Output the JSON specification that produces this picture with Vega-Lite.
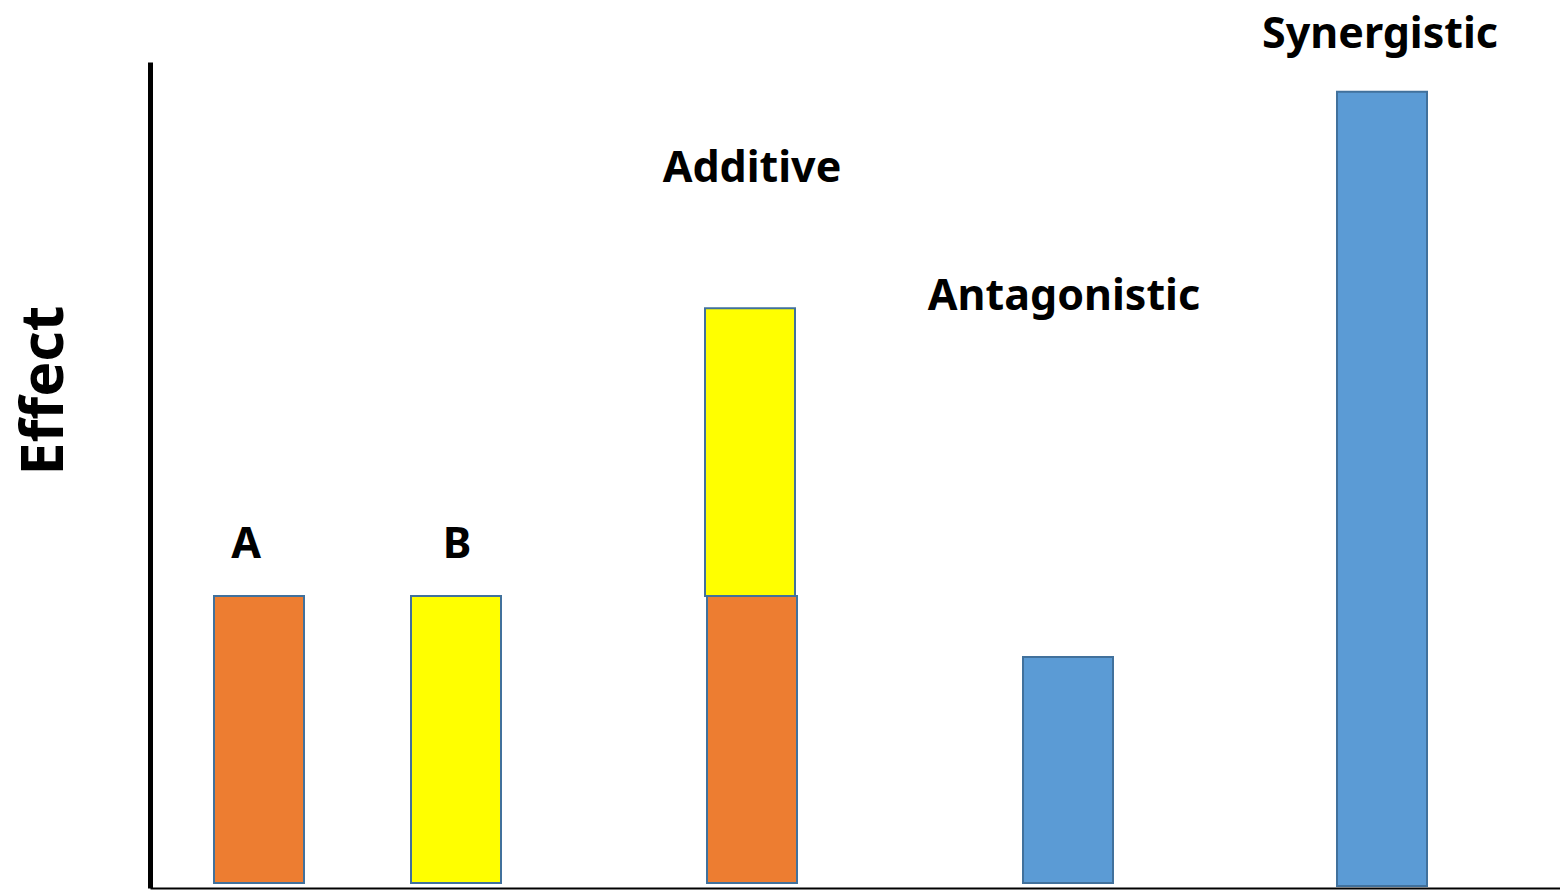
{
  "$schema": "https://vega.github.io/schema/vega-lite/v6.json",
  "width": 1410,
  "height": 826,
  "autosize": {"type": "none"},
  "padding": {"left": 150, "top": 62, "right": 0, "bottom": 2},
  "background": "white",
  "config": {"view": {"stroke": null}},
  "datasets": {
    "bars": [
      {"group": "A", "part": "A", "x0": 6.4, "x1": 15.4, "base": 0.6, "top": 35.35},
      {"group": "B", "part": "B", "x0": 26.1, "x1": 35.1, "base": 0.6, "top": 35.35},
      {"group": "Additive", "part": "B", "x0": 55.5, "x1": 64.5, "base": 35.35, "top": 70.2},
      {"group": "Additive", "part": "A", "x0": 55.7, "x1": 64.7, "base": 0.6, "top": 35.35},
      {"group": "Antagonistic", "part": "Combined", "x0": 87.3, "x1": 96.3, "base": 0.6, "top": 27.97},
      {"group": "Synergistic", "part": "Combined", "x0": 118.7, "x1": 127.7, "base": 0.24, "top": 96.4}
    ],
    "labels": [
      {"label": "A", "xc": 9.6, "yb": 40.0},
      {"label": "B", "xc": 30.7, "yb": 40.0},
      {"label": "Additive", "xc": 60.2, "yb": 85.5},
      {"label": "Antagonistic", "xc": 91.4, "yb": 70.0},
      {"label": "Synergistic", "xc": 123.0, "yb": 101.7}
    ]
  },
  "layer": [
    {
      "data": {"name": "bars"},
      "mark": {"type": "bar", "stroke": "#41719C", "strokeWidth": 2},
      "encoding": {
        "x": {"field": "x0", "type": "quantitative",
              "scale": {"domain": [0, 141], "nice": false, "zero": false},
              "axis": {"title": null, "labels": false, "ticks": false, "grid": false, "domainColor": "black", "domainWidth": 2}},
        "x2": {"field": "x1"},
        "y": {"field": "top", "type": "quantitative",
              "scale": {"domain": [0, 100], "nice": false, "zero": false},
              "axis": {"title": "Effect", "labels": false, "ticks": false, "grid": false,
                       "domainColor": "black", "domainWidth": 5,
                       "titleFont": "Noto Sans", "titleFontWeight": "bold", "titleFontSize": 59, "titleColor": "black",
                       "titleAngle": -90, "titleAlign": "center", "titleBaseline": "middle",
                       "titleX": -106, "titleY": 328}},
        "y2": {"field": "base"},
        "color": {"field": "part", "type": "nominal",
                  "scale": {"domain": ["A", "B", "Combined"], "range": ["#ED7D31", "#FFFF00", "#5B9BD5"]},
                  "legend": null}
      }
    },
    {
      "data": {"name": "labels"},
      "mark": {"type": "text", "font": "Noto Sans", "fontWeight": "bold", "fontSize": 43, "color": "black", "align": "center", "baseline": "alphabetic"},
      "encoding": {
        "x": {"field": "xc", "type": "quantitative"},
        "y": {"field": "yb", "type": "quantitative"},
        "text": {"field": "label"}
      }
    }
  ]
}
